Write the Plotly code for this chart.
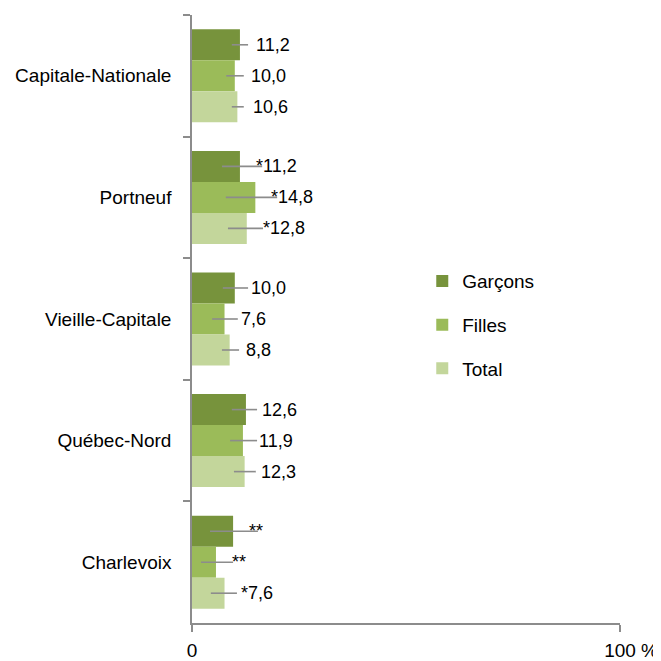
import plotly.graph_objects as go

# regions, top to bottom
regions = ["Capitale-Nationale", "Portneuf", "Vieille-Capitale", "Québec-Nord", "Charlevoix"]
series = ["Garçons", "Filles", "Total"]
colors = ["#77933C", "#9BBB59", "#C3D69B"]

# prevalence (%) by series
garcons = [11.2, 11.2, 10.0, 12.6, 9.6]
filles = [10.0, 14.8, 7.6, 11.9, 5.6]
total = [10.6, 12.8, 8.8, 12.3, 7.6]

# confidence interval half-widths (upper / lower)
garcons_up = [1.9, 5.2, 3.1, 2.6, 5.8]
garcons_dn = [1.9, 4.2, 2.8, 3.3, 5.4]
filles_up = [2.1, 5.1, 3.1, 3.3, 4.0]
filles_dn = [2.0, 6.9, 2.9, 3.0, 3.5]
total_up = [1.5, 3.8, 2.2, 2.6, 2.9]
total_dn = [1.3, 4.4, 1.8, 2.5, 3.2]

# precision flags shown before the label ("**" = value not shown)
garcons_flag = ["", "*", "", "", "**"]
filles_flag = ["", "*", "", "", "**"]
total_flag = ["", "*", "", "", "*"]

values = [garcons, filles, total]
err_up = [garcons_up, filles_up, total_up]
err_dn = [garcons_dn, filles_dn, total_dn]
flags = [garcons_flag, filles_flag, total_flag]

FONT = "Liberation Sans, Arial, sans-serif"
BARGAP = 0.235


def label(v, flag):
    if flag == "**":
        return "**"
    return flag + f"{v:.1f}".replace(".", ",")


fig = go.Figure()
for i, name in enumerate(series):
    fig.add_trace(go.Bar(
        name=name, y=regions, x=values[i], orientation="h",
        marker=dict(color=colors[i], line=dict(width=0)),
        error_x=dict(type="data", symmetric=False, array=err_up[i], arrayminus=err_dn[i],
                     color="#8C8C8C", thickness=1.6, width=0),
        legendgroup=name, hoverinfo="skip",
    ))

# data labels, placed a fixed distance right of each bar end
bar_w = (1 - BARGAP) / len(series)
annotations = []
for i in range(len(series)):
    off = -(1 - BARGAP) / 2 + bar_w * (i + 0.5)
    for j in range(len(regions)):
        annotations.append(dict(
            x=values[i][j], y=j + off, xref="x", yref="y",
            text=label(values[i][j], flags[i][j]), showarrow=False,
            xanchor="left", xshift=14, font=dict(size=18, color="#000000", family=FONT),
        ))
annotations.append(dict(
    x=100, y=0, xref="x", yref="paper", text="%", showarrow=False,
    xanchor="left", yanchor="top", xshift=19, yshift=-15,
    font=dict(size=19, color="#000000", family=FONT),
))

# the page body adds an 8 px offset, so the figure is 8 px smaller than the window
fig.update_layout(
    width=653, height=653,
    margin=dict(l=184, r=41, t=7, b=38, autoexpand=False),
    paper_bgcolor="white", plot_bgcolor="white",
    barmode="group", bargap=BARGAP, bargroupgap=0,
    font=dict(family=FONT, size=19, color="#000000"),
    showlegend=True,
    legend=dict(x=0.538, y=0.49, xanchor="left", yanchor="middle",
                traceorder="grouped", tracegroupgap=16,
                font=dict(size=19, family=FONT), bgcolor="rgba(0,0,0,0)"),
    annotations=annotations,
)
fig.update_xaxes(
    range=[0, 100], tickvals=[0, 100], ticktext=["0", "100"], automargin=False,
    showgrid=False, zeroline=False, showline=True, linecolor="#8C8C8C", linewidth=1.5,
    ticks="outside", ticklen=7, tickcolor="#8C8C8C", tickwidth=1.5,
    ticklabelstandoff=2, tickfont=dict(size=19),
)
fig.update_yaxes(
    autorange="reversed", automargin=False,
    showgrid=False, showline=True, linecolor="#8C8C8C", linewidth=1.5,
    ticks="outside", tickson="boundaries", ticklen=7, tickcolor="#8C8C8C", tickwidth=1.5,
    ticklabelstandoff=15, tickfont=dict(size=19),
)

fig.write_html("out.html")
